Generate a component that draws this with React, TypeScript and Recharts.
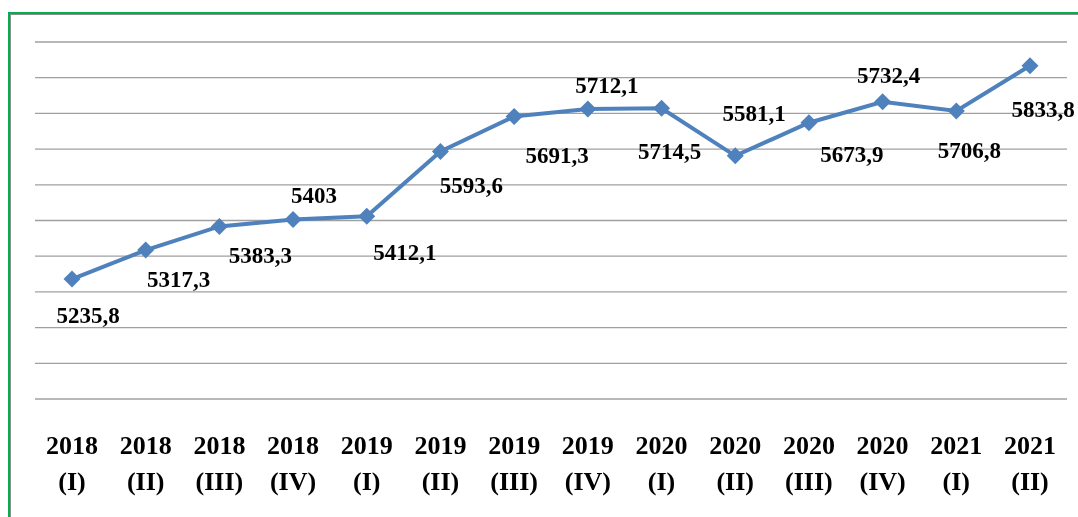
import React from 'react';
import { LineChart, Line, XAxis, YAxis, CartesianGrid } from 'recharts';

// quarters
const years = ['2018', '2018', '2018', '2018', '2019', '2019', '2019', '2019', '2020', '2020', '2020', '2020', '2021', '2021'];
const quarters = ['(I)', '(II)', '(III)', '(IV)', '(I)', '(II)', '(III)', '(IV)', '(I)', '(II)', '(III)', '(IV)', '(I)', '(II)'];
const values = [5235.8, 5317.3, 5383.3, 5403, 5412.1, 5593.6, 5691.3, 5712.1, 5714.5, 5581.1, 5673.9, 5732.4, 5706.8, 5833.8];
const yTicks = [4900, 5000, 5100, 5200, 5300, 5400, 5500, 5600, 5700, 5800, 5900];

// where each value label sits relative to its marker (center of text)
const labelOffsets: [number, number][] = [
  [16, 36], [33, 29], [41, 29], [21, -24], [38, 36], [31, 34], [43, 38],
  [19, -24], [8, 43], [19, -43], [43, 31], [6, -27], [13, 39], [13, 43],
];

const data = values.map((v, i) => ({ name: years[i] + ' ' + quarters[i], value: v }));

const FONT = '"Liberation Serif", "Times New Roman", serif';
const BLUE = '#4F81BD';

const fmt = (v: number) => String(v).replace('.', ',');

const Diamond = (props: any) => {
  const { cx, cy } = props;
  if (cx == null || cy == null) return null;
  const r = 8.5;
  return <polygon points={`${cx},${cy - r} ${cx + r},${cy} ${cx},${cy + r} ${cx - r},${cy}`} fill={BLUE} />;
};

const ValueLabel = (props: any) => {
  const { x, y, index, value } = props;
  const [dx, dy] = labelOffsets[index] || [0, 0];
  return (
    <text x={x + dx} y={y + dy + 8} textAnchor="middle" fontFamily={FONT} fontWeight="bold" fontSize={23} fill="#000">
      {fmt(value)}
    </text>
  );
};

const QuarterTick = (props: any) => {
  const { x, y, index } = props;
  return (
    <g>
      <text x={x} y={y + 55} textAnchor="middle" fontFamily={FONT} fontWeight="bold" fontSize={26} fill="#000">
        {years[index]}
      </text>
      <text x={x} y={y + 91} textAnchor="middle" fontFamily={FONT} fontWeight="bold" fontSize={26} fill="#000">
        {quarters[index]}
      </text>
    </g>
  );
};

export default function App() {
  return (
    <div>
      <div
        style={{
          position: 'fixed', left: 8, top: 12, right: 0, bottom: 0,
          borderLeft: '2px solid #00B050', borderTop: '2px solid #00B050',
        }}
      >
        <div style={{ position: 'absolute', left: 0, top: 0, right: 0, bottom: 0, borderLeft: '1px solid #8c8c8c', borderTop: '1px solid #8c8c8c' }} />
      </div>
      <div style={{ position: 'fixed', left: 8, top: 8, width: 1070, height: 509 }}>
        <LineChart width={1070} height={500} data={data} margin={{ top: 34, right: 11, bottom: 0, left: 27 }}>
          <CartesianGrid horizontal vertical={false} stroke="#a0a0a0" strokeWidth={1.3} />
          <XAxis
            dataKey="name"
            height={109}
            interval={0}
            tickLine={false}
            axisLine={false}
            tickSize={0}
            tickMargin={0}
            padding={{ left: 37, right: 37 }}
            tick={<QuarterTick />}
          />
          <YAxis hide domain={[4900, 5900]} ticks={yTicks} />
          <Line
            type="linear"
            dataKey="value"
            stroke={BLUE}
            strokeWidth={4}
            dot={<Diamond />}
            activeDot={false}
            isAnimationActive={false}
            label={<ValueLabel />}
          />
        </LineChart>
      </div>
    </div>
  );
}
